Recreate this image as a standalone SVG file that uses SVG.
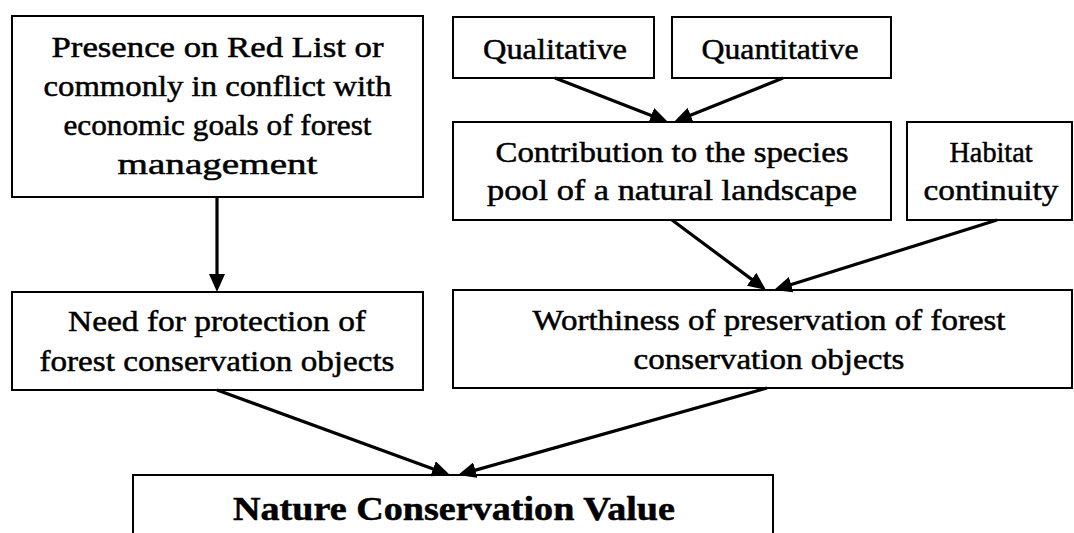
<svg xmlns="http://www.w3.org/2000/svg" width="1074" height="533" viewBox="0 0 1074 533">
  <style>
    .box { fill: #ffffff; stroke: #000000; stroke-width: 2; }
    .t { font-family: 'Liberation Serif', 'DejaVu Serif', serif; font-size: 30px; fill: #000000; stroke: #000000; stroke-width: 0.5; text-anchor: middle; }
    .b { font-weight: bold; font-size: 34px; }
    .edge { stroke: #000000; stroke-width: 3.2; fill: none; marker-end: url(#ah); }
  </style>
  <defs>
    <marker id="ah" markerUnits="userSpaceOnUse" markerWidth="18" markerHeight="16" refX="9" refY="8" orient="auto">
      <path d="M0,0 L18,8 L0,16 Z" fill="#000000"/>
    </marker>
  </defs>
  <rect width="1074" height="533" fill="#ffffff"/>

  <g id="redlist">
    <rect class="box" x="12" y="16" width="411" height="181"/>
    <text class="t" x="217.5" y="57" textLength="332" lengthAdjust="spacingAndGlyphs">Presence on Red List or</text>
    <text class="t" x="217.5" y="96" textLength="348" lengthAdjust="spacingAndGlyphs">commonly in conflict with</text>
    <text class="t" x="217.5" y="135" textLength="308" lengthAdjust="spacingAndGlyphs">economic goals of forest</text>
    <text class="t" x="217.5" y="174" textLength="200" lengthAdjust="spacingAndGlyphs">management</text>
  </g>

  <g id="qualitative">
    <rect class="box" x="453" y="17" width="201" height="61"/>
    <text class="t" x="555" y="59" textLength="144" lengthAdjust="spacingAndGlyphs">Qualitative</text>
  </g>

  <g id="quantitative">
    <rect class="box" x="672" y="17" width="219" height="61"/>
    <text class="t" x="780" y="59" textLength="157" lengthAdjust="spacingAndGlyphs">Quantitative</text>
  </g>

  <g id="contribution">
    <rect class="box" x="453" y="122" width="438" height="98"/>
    <text class="t" x="672" y="162" textLength="353" lengthAdjust="spacingAndGlyphs">Contribution to the species</text>
    <text class="t" x="672" y="200" textLength="370" lengthAdjust="spacingAndGlyphs">pool of a natural landscape</text>
  </g>

  <g id="habitat">
    <rect class="box" x="907" y="122" width="165" height="98"/>
    <text class="t" x="991" y="162" textLength="83" lengthAdjust="spacingAndGlyphs">Habitat</text>
    <text class="t" x="991" y="200" textLength="135" lengthAdjust="spacingAndGlyphs">continuity</text>
  </g>

  <g id="need">
    <rect class="box" x="12" y="292" width="411" height="98"/>
    <text class="t" x="217" y="331" textLength="298" lengthAdjust="spacingAndGlyphs">Need for protection of</text>
    <text class="t" x="217" y="371" textLength="355" lengthAdjust="spacingAndGlyphs">forest conservation objects</text>
  </g>

  <g id="worthiness">
    <rect class="box" x="453" y="290" width="619" height="98"/>
    <text class="t" x="769" y="330" textLength="473" lengthAdjust="spacingAndGlyphs">Worthiness of preservation of forest</text>
    <text class="t" x="769" y="369" textLength="271" lengthAdjust="spacingAndGlyphs">conservation objects</text>
  </g>

  <g id="ncv">
    <rect class="box" x="133" y="475" width="640" height="80"/>
    <text class="t b" x="454" y="520" textLength="442" lengthAdjust="spacingAndGlyphs">Nature Conservation Value</text>
  </g>

  <g id="connectors">
    <line class="edge" x1="217" y1="197" x2="217" y2="283"/>
    <line class="edge" x1="555" y1="78" x2="659.6" y2="118.7"/>
    <line class="edge" x1="783" y1="78" x2="682.3" y2="118.6"/>
    <line class="edge" x1="672" y1="220" x2="758.8" y2="284.6"/>
    <line class="edge" x1="997" y1="220" x2="782.6" y2="287.3"/>
    <line class="edge" x1="217" y1="390" x2="441.5" y2="471.9"/>
    <line class="edge" x1="767" y1="388" x2="466.7" y2="472.6"/>
  </g>
</svg>
